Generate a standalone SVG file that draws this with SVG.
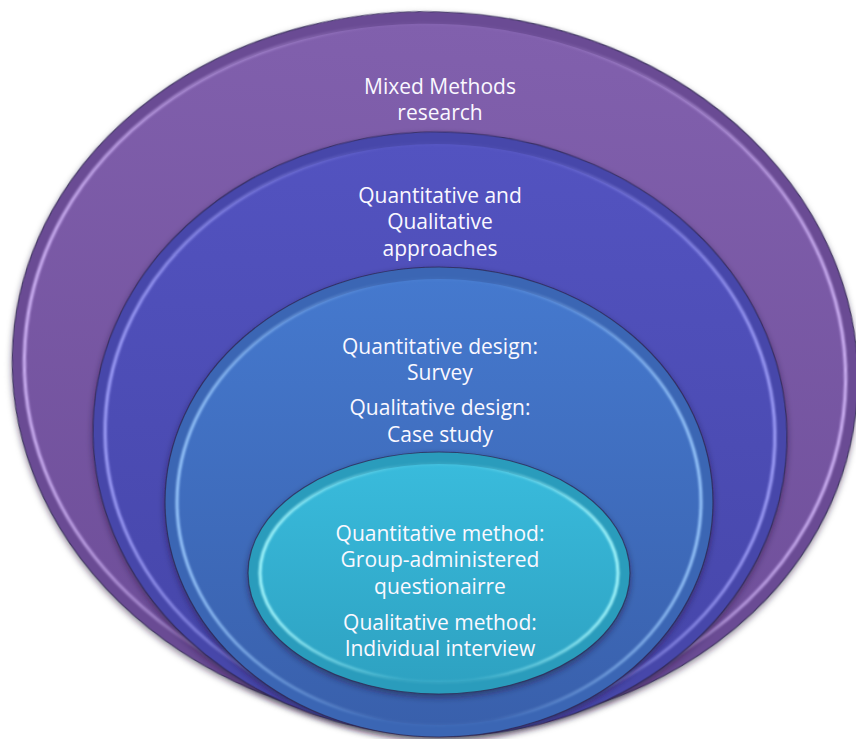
<svg xmlns="http://www.w3.org/2000/svg" width="856" height="739" viewBox="0 0 856 739">
  <defs>
    <!-- soft cast shadow under each disc -->
    <filter id="drop" x="-10%" y="-10%" width="120%" height="125%">
      <feDropShadow dx="0" dy="3" stdDeviation="3" flood-color="#1a1430" flood-opacity="0.5"/>
    </filter>
    <filter id="soft" x="-5%" y="-5%" width="110%" height="110%">
      <feGaussianBlur stdDeviation="1.2"/>
    </filter>
    <!-- face fills -->
    <linearGradient id="fPurple" x1="0" y1="0" x2="0" y2="1">
      <stop offset="0" stop-color="#8160AD"/>
      <stop offset="1" stop-color="#6D4D98"/>
    </linearGradient>
    <linearGradient id="fIndigo" x1="0" y1="0" x2="0" y2="1">
      <stop offset="0" stop-color="#5353C0"/>
      <stop offset="1" stop-color="#4545A8"/>
    </linearGradient>
    <linearGradient id="fBlue" x1="0" y1="0" x2="0" y2="1">
      <stop offset="0" stop-color="#4579CE"/>
      <stop offset="1" stop-color="#3960AC"/>
    </linearGradient>
    <linearGradient id="fCyan" x1="0" y1="0" x2="0" y2="1">
      <stop offset="0" stop-color="#39BBDC"/>
      <stop offset="1" stop-color="#2EA2C2"/>
    </linearGradient>
    <!-- bevel highlight: bright on the sides, fading over the top -->
    <linearGradient id="hPurple" x1="0" y1="0" x2="1" y2="0">
      <stop offset="0" stop-color="#D9BDFF" stop-opacity="0.95"/>
      <stop offset="0.2" stop-color="#D9BDFF" stop-opacity="0.45"/>
      <stop offset="0.4" stop-color="#D9BDFF" stop-opacity="0.05"/>
      <stop offset="0.6" stop-color="#D9BDFF" stop-opacity="0.05"/>
      <stop offset="0.8" stop-color="#D9BDFF" stop-opacity="0.45"/>
      <stop offset="1" stop-color="#D9BDFF" stop-opacity="0.95"/>
    </linearGradient>
    <linearGradient id="hIndigo" x1="0" y1="0" x2="1" y2="0">
      <stop offset="0" stop-color="#A6A6FF" stop-opacity="0.95"/>
      <stop offset="0.2" stop-color="#A6A6FF" stop-opacity="0.45"/>
      <stop offset="0.4" stop-color="#A6A6FF" stop-opacity="0.05"/>
      <stop offset="0.6" stop-color="#A6A6FF" stop-opacity="0.05"/>
      <stop offset="0.8" stop-color="#A6A6FF" stop-opacity="0.45"/>
      <stop offset="1" stop-color="#A6A6FF" stop-opacity="0.95"/>
    </linearGradient>
    <linearGradient id="hBlue" x1="0" y1="0" x2="1" y2="0">
      <stop offset="0" stop-color="#9CCBFF" stop-opacity="0.95"/>
      <stop offset="0.2" stop-color="#9CCBFF" stop-opacity="0.45"/>
      <stop offset="0.4" stop-color="#9CCBFF" stop-opacity="0.05"/>
      <stop offset="0.6" stop-color="#9CCBFF" stop-opacity="0.05"/>
      <stop offset="0.8" stop-color="#9CCBFF" stop-opacity="0.45"/>
      <stop offset="1" stop-color="#9CCBFF" stop-opacity="0.95"/>
    </linearGradient>
    <linearGradient id="hCyan" x1="0" y1="0" x2="1" y2="0">
      <stop offset="0" stop-color="#A8FAFF" stop-opacity="0.95"/>
      <stop offset="0.2" stop-color="#A8FAFF" stop-opacity="0.5"/>
      <stop offset="0.4" stop-color="#A8FAFF" stop-opacity="0.1"/>
      <stop offset="0.6" stop-color="#A8FAFF" stop-opacity="0.1"/>
      <stop offset="0.8" stop-color="#A8FAFF" stop-opacity="0.5"/>
      <stop offset="1" stop-color="#A8FAFF" stop-opacity="0.95"/>
    </linearGradient>
  </defs>
  <style>
    .rim { stroke: #2E2750; stroke-opacity: 0.75; stroke-width: 1.2; }
    .hl { fill: none; stroke-width: 3; }
    .label { font-family: "Open Sans", "Noto Sans", "Liberation Sans", sans-serif; font-size: 21px; fill: #FAF8FF; text-anchor: middle; }
  </style>

  <rect width="856" height="739" fill="#FFFFFF"/>

  <!-- outermost ring -->
  <g id="mixed-methods" transform="rotate(4 435 370)">
    <ellipse class="rim" cx="435" cy="370" rx="423" ry="358" fill="#6A4B94" filter="url(#drop)"/>
    <ellipse cx="435" cy="370" rx="411" ry="346" fill="url(#fPurple)"/>
    <ellipse class="hl" cx="435" cy="370" rx="411" ry="346" stroke="url(#hPurple)" filter="url(#soft)"/>
  </g>
  <g id="mixed-methods-label">
    <text class="label" x="440" y="94">Mixed Methods</text>
    <text class="label" x="440" y="120">research</text>
  </g>

  <!-- approaches ring -->
  <g id="approaches" transform="rotate(2 440 434)">
    <ellipse class="rim" cx="440" cy="434" rx="347" ry="302" fill="#4747AA" filter="url(#drop)"/>
    <ellipse cx="440" cy="434" rx="335" ry="290" fill="url(#fIndigo)"/>
    <ellipse class="hl" cx="440" cy="434" rx="335" ry="290" stroke="url(#hIndigo)" filter="url(#soft)"/>
  </g>
  <g id="approaches-label">
    <text class="label" x="440" y="203">Quantitative and</text>
    <text class="label" x="440" y="229">Qualitative</text>
    <text class="label" x="440" y="256">approaches</text>
  </g>

  <!-- design ring -->
  <g id="designs">
    <ellipse class="rim" cx="439" cy="502" rx="274" ry="235" fill="#3A66B4" filter="url(#drop)"/>
    <ellipse cx="439" cy="502" rx="262" ry="223" fill="url(#fBlue)"/>
    <ellipse class="hl" cx="439" cy="502" rx="262" ry="223" stroke="url(#hBlue)" filter="url(#soft)"/>
    <text class="label" x="440" y="354">Quantitative design:</text>
    <text class="label" x="440" y="380">Survey</text>
    <text class="label" x="440" y="415">Qualitative design:</text>
    <text class="label" x="440" y="442">Case study</text>
  </g>

  <!-- innermost disc -->
  <g id="methods">
    <ellipse class="rim" cx="439" cy="573" rx="191" ry="121" fill="#2C9CBC" filter="url(#drop)"/>
    <ellipse cx="439" cy="573" rx="179" ry="109" fill="url(#fCyan)"/>
    <ellipse class="hl" cx="439" cy="573" rx="179" ry="109" stroke="url(#hCyan)" filter="url(#soft)"/>
    <text class="label" x="440" y="541">Quantitative method:</text>
    <text class="label" x="440" y="567">Group-administered</text>
    <text class="label" x="440" y="594">questionairre</text>
    <text class="label" x="440" y="630">Qualitative method:</text>
    <text class="label" x="440" y="656">Individual interview</text>
  </g>
</svg>
